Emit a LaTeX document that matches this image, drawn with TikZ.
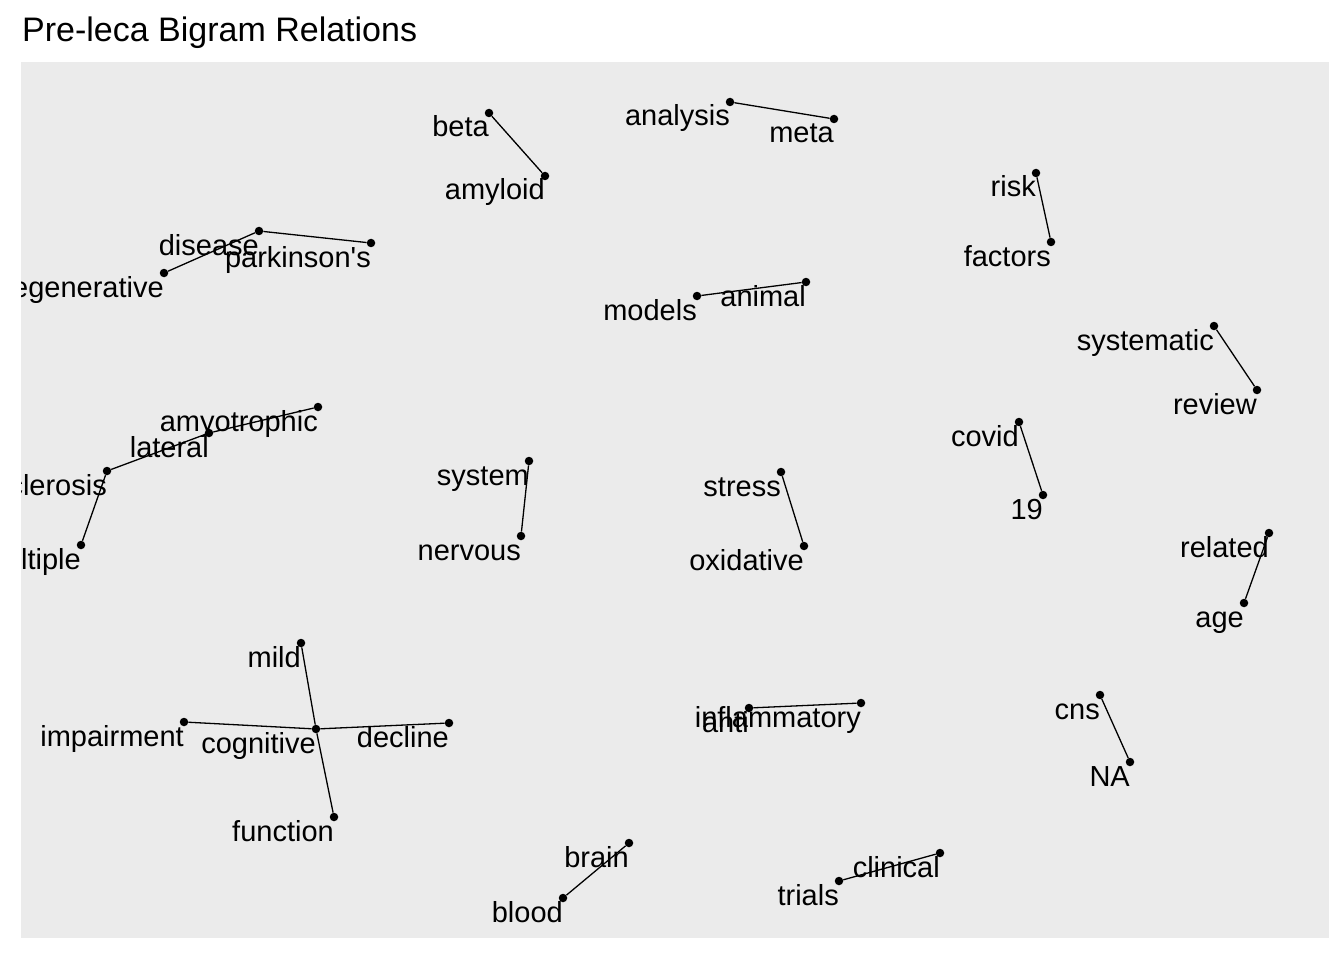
\documentclass[tikz,border=0pt]{standalone}
\usepackage{fontspec}
\setmainfont{Liberation Sans}[Ligatures=TeXOff]
\definecolor{panelgrey}{HTML}{EBEBEB}

\begin{document}
\begin{tikzpicture}[x=1pt,y=-1pt,
  dot/.style={circle,fill=black,inner sep=0pt,minimum size=8.5pt},
  link/.style={line width=1.3pt,black},
  word/.style={anchor=base east,inner sep=0pt,yshift=-2pt,font=\fontsize{29}{29}\selectfont}]
\useasboundingbox (0,0) rectangle (1344,960);
\fill[white] (0,0) rectangle (1344,960);

\node[anchor=base west,inner sep=0pt,font=\fontsize{34}{34}\selectfont] (title) at (22,42) {Pre-leca Bigram Relations};

\fill[panelgrey] (21,62) rectangle (1329,938);

% points
\node[dot] (beta) at (489,113) {};
\node[dot] (amyloid) at (545,176) {};
\node[dot] (analysis) at (730,102) {};
\node[dot] (meta) at (834,119) {};
\node[dot] (models) at (697,296) {};
\node[dot] (animal) at (806,282) {};
\node[dot] (risk) at (1036,173) {};
\node[dot] (factors) at (1051,242) {};
\node[dot] (systematic) at (1214,326) {};
\node[dot] (review) at (1257,390) {};
\node[dot] (disease) at (259,231) {};
\node[dot] (parkinsons) at (371,243) {};
\node[dot] (neurodeg) at (164,273) {};
\node[dot] (amyotrophic) at (318,407) {};
\node[dot] (lateral) at (209,433) {};
\node[dot] (sclerosis) at (107,471) {};
\node[dot] (multiple) at (81,545) {};
\node[dot] (system) at (529,461) {};
\node[dot] (nervous) at (521,536) {};
\node[dot] (stress) at (781,472) {};
\node[dot] (oxidative) at (804,546) {};
\node[dot] (covid) at (1019,422) {};
\node[dot] (nineteen) at (1043,495) {};
\node[dot] (related) at (1269,533) {};
\node[dot] (age) at (1244,603) {};
\node[dot] (mild) at (301,643) {};
\node[dot] (impairment) at (184,722) {};
\node[dot] (cognitive) at (316,729) {};
\node[dot] (decline) at (449,723) {};
\node[dot] (function) at (334,817) {};
\node[dot] (anti) at (749,708) {};
\node[dot] (inflammatory) at (861,703) {};
\node[dot] (cns) at (1100,695) {};
\node[dot] (na) at (1130,762) {};
\node[dot] (brain) at (629,843) {};
\node[dot] (blood) at (563,898) {};
\node[dot] (clinical) at (940,853) {};
\node[dot] (trials) at (839,881) {};

% bigrams
\draw[link] (beta) -- (amyloid);
\draw[link] (analysis) -- (meta);
\draw[link] (animal) -- (models);
\draw[link] (risk) -- (factors);
\draw[link] (systematic) -- (review);
\draw[link] (neurodeg) -- (disease);
\draw[link] (disease) -- (parkinsons);
\draw[link] (amyotrophic) -- (lateral);
\draw[link] (lateral) -- (sclerosis);
\draw[link] (sclerosis) -- (multiple);
\draw[link] (system) -- (nervous);
\draw[link] (stress) -- (oxidative);
\draw[link] (covid) -- (nineteen);
\draw[link] (related) -- (age);
\draw[link] (mild) -- (cognitive);
\draw[link] (cognitive) -- (impairment);
\draw[link] (cognitive) -- (decline);
\draw[link] (cognitive) -- (function);
\draw[link] (anti) -- (inflammatory);
\draw[link] (cns) -- (na);
\draw[link] (brain) -- (blood);
\draw[link] (clinical) -- (trials);

% words, cut at the panel edge
\begin{scope}
\clip (21,62) rectangle (1329,938);
\node[word] (tbeta) at (489,135) {beta};
\node[word] (tamyloid) at (545,198) {amyloid};
\node[word] (tanalysis) at (730,124) {analysis};
\node[word] (tmeta) at (834,141) {meta};
\node[word] (tmodels) at (697,318) {models};
\node[word] (tanimal) at (806,304) {animal};
\node[word] (trisk) at (1036,195) {risk};
\node[word] (tfactors) at (1051,264) {factors};
\node[word] (tsystematic) at (1214,348) {systematic};
\node[word] (treview) at (1257,412) {review};
\node[word] (tdisease) at (259,253) {disease};
\node[word] (tparkinsons) at (371,265) {parkinson's};
\node[word] (tneurodeg) at (164,295) {neurodegenerative};
\node[word] (tamyotrophic) at (318,429) {amyotrophic};
\node[word] (tlateral) at (209,455) {lateral};
\node[word] (tsclerosis) at (107,493) {sclerosis};
\node[word] (tmultiple) at (81,567) {multiple};
\node[word] (tsystem) at (529,483) {system};
\node[word] (tnervous) at (521,558) {nervous};
\node[word] (tstress) at (781,494) {stress};
\node[word] (toxidative) at (804,568) {oxidative};
\node[word] (tcovid) at (1019,444) {covid};
\node[word] (tnineteen) at (1043,517) {19};
\node[word] (trelated) at (1269,555) {related};
\node[word] (tage) at (1244,625) {age};
\node[word] (tmild) at (301,665) {mild};
\node[word] (timpairment) at (184,744) {impairment};
\node[word] (tcognitive) at (316,751) {cognitive};
\node[word] (tdecline) at (449,745) {decline};
\node[word] (tfunction) at (334,839) {function};
\node[word] (tanti) at (749,730) {anti};
\node[word] (tinflammatory) at (861,725) {inflammatory};
\node[word] (tcns) at (1100,717) {cns};
\node[word] (tna) at (1130,784) {NA};
\node[word] (tbrain) at (629,865) {brain};
\node[word] (tblood) at (563,920) {blood};
\node[word] (tclinical) at (940,875) {clinical};
\node[word] (ttrials) at (839,903) {trials};
\end{scope}
\end{tikzpicture}
\end{document}
